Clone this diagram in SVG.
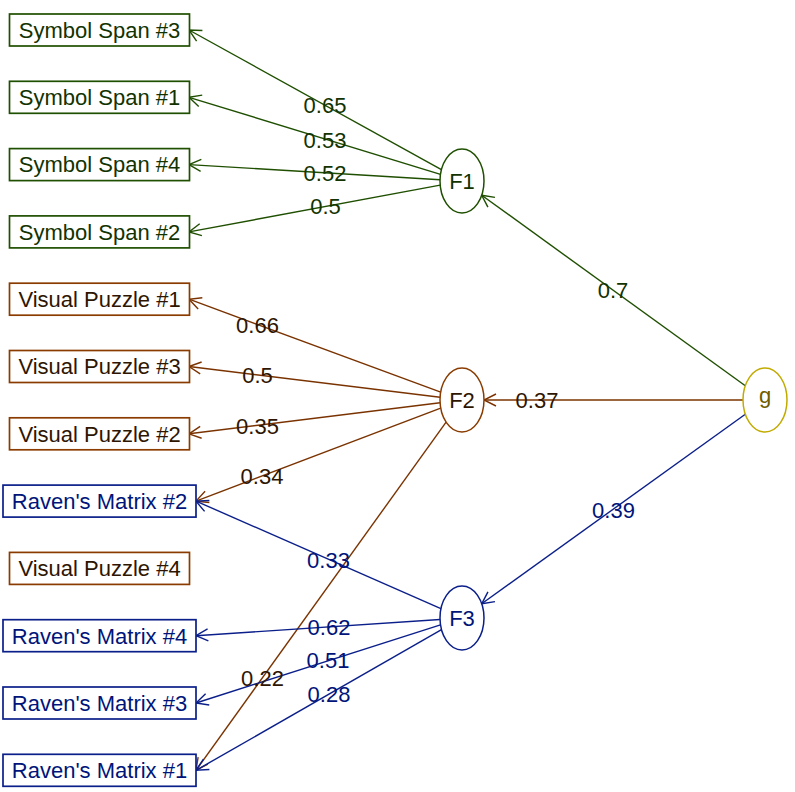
<svg xmlns="http://www.w3.org/2000/svg" width="795" height="792" viewBox="0 0 795 792">
<style>
text{font-family:"Liberation Sans",Arial,sans-serif;font-size:22px;text-anchor:middle}
.box{fill:#fff;stroke-width:1.7}
.ell{fill:#fff;stroke-width:1.5}
.gr{stroke:#1f4f00}
.or{stroke:#8a3c00}
.bl{stroke:#0b1f8a}
.yl{stroke:#c2ab00}
.tgr{fill:#123300}
.tor{fill:#2e1500}
.tbl{fill:#00147a}
.tyl{fill:#6e5c00}
.e{fill:none;stroke-width:1.4}
.egr{stroke:#1f4f00;marker-end:url(#ag)}
.eor{stroke:#7a3300;marker-end:url(#ao)}
.ebl{stroke:#0b1f8a;marker-end:url(#ab)}
</style>
<defs>
<marker id="ag" markerUnits="userSpaceOnUse" markerWidth="16" markerHeight="14" refX="14" refY="7" orient="auto" overflow="visible"><path d="M2,1 L14,7 L2,13" fill="none" stroke="#1f4f00" stroke-width="1.4"/></marker>
<marker id="ao" markerUnits="userSpaceOnUse" markerWidth="16" markerHeight="14" refX="14" refY="7" orient="auto" overflow="visible"><path d="M2,1 L14,7 L2,13" fill="none" stroke="#7a3300" stroke-width="1.4"/></marker>
<marker id="ab" markerUnits="userSpaceOnUse" markerWidth="16" markerHeight="14" refX="14" refY="7" orient="auto" overflow="visible"><path d="M2,1 L14,7 L2,13" fill="none" stroke="#0b1f8a" stroke-width="1.4"/></marker>
</defs>
<rect width="795" height="792" fill="#fff"/>
<g id="connectors">
<line class="e egr" x1="441.4" y1="169.6" x2="189" y2="30"/>
<line class="e egr" x1="440.5" y1="174.4" x2="189" y2="97.3"/>
<line class="e egr" x1="440" y1="179.7" x2="189" y2="164.6"/>
<line class="e egr" x1="440.2" y1="185.1" x2="189" y2="231.9"/>
<line class="e eor" x1="440.7" y1="392.1" x2="189" y2="299.2"/>
<line class="e eor" x1="440.1" y1="397.3" x2="189" y2="366.5"/>
<line class="e eor" x1="440.1" y1="402.7" x2="189" y2="433.8"/>
<line class="e eor" x1="440.7" y1="408.1" x2="196" y2="501.1"/>
<line class="e eor" x1="446.1" y1="422.1" x2="196" y2="770.3"/>
<line class="e ebl" x1="440.9" y1="608.7" x2="196" y2="501.1"/>
<line class="e ebl" x1="440" y1="619.5" x2="196" y2="635.7"/>
<line class="e ebl" x1="440.5" y1="624.9" x2="196" y2="703"/>
<line class="e ebl" x1="441.5" y1="629.7" x2="196" y2="770.3"/>
<line class="e egr" x1="745.3" y1="385.8" x2="481.7" y2="195.2"/>
<line class="e eor" x1="743" y1="400" x2="484" y2="400"/>
<line class="e ebl" x1="745.3" y1="414.2" x2="481.7" y2="603.8"/>
<text class="tgr" x="325" y="112.5">0.65</text>
<text class="tgr" x="325" y="147.5">0.53</text>
<text class="tgr" x="325" y="180.5">0.52</text>
<text class="tgr" x="325.5" y="213.5">0.5</text>
<text class="tor" x="257.5" y="332.5">0.66</text>
<text class="tor" x="257.5" y="382.5">0.5</text>
<text class="tor" x="257.5" y="433.5">0.35</text>
<text class="tor" x="262" y="483.5">0.34</text>
<text class="tbl" x="328.5" y="567.5">0.33</text>
<text class="tbl" x="329" y="634.5">0.62</text>
<text class="tbl" x="328" y="668">0.51</text>
<text class="tor" x="262.5" y="685.5">0.22</text>
<text class="tbl" x="329" y="701.5">0.28</text>
<text class="tgr" x="613" y="297.5">0.7</text>
<text class="tor" x="537" y="407.5">0.37</text>
<text class="tbl" x="613.5" y="517.5">0.39</text>
</g>
<g id="ss3"><rect class="box gr" x="9.5" y="14" width="180" height="32"/><text class="tgr" x="99.5" y="37.8">Symbol Span #3</text></g>
<g id="ss1"><rect class="box gr" x="9.5" y="81.3" width="180" height="32"/><text class="tgr" x="99.5" y="105.1">Symbol Span #1</text></g>
<g id="ss4"><rect class="box gr" x="9.5" y="148.6" width="180" height="32"/><text class="tgr" x="99.5" y="172.4">Symbol Span #4</text></g>
<g id="ss2"><rect class="box gr" x="9.5" y="215.9" width="180" height="32"/><text class="tgr" x="99.5" y="239.7">Symbol Span #2</text></g>
<g id="vp1"><rect class="box or" x="9.5" y="283.2" width="180" height="32"/><text class="tor" x="99.5" y="307">Visual Puzzle #1</text></g>
<g id="vp3"><rect class="box or" x="9.5" y="350.5" width="180" height="32"/><text class="tor" x="99.5" y="374.3">Visual Puzzle #3</text></g>
<g id="vp2"><rect class="box or" x="9.5" y="417.8" width="180" height="32"/><text class="tor" x="99.5" y="441.6">Visual Puzzle #2</text></g>
<g id="rm2"><rect class="box bl" x="3" y="485.1" width="193" height="32"/><text class="tbl" x="99.5" y="508.9">Raven's Matrix #2</text></g>
<g id="vp4"><rect class="box or" x="9.5" y="552.4" width="180" height="32"/><text class="tor" x="99.5" y="576.2">Visual Puzzle #4</text></g>
<g id="rm4"><rect class="box bl" x="3" y="619.7" width="193" height="32"/><text class="tbl" x="99.5" y="643.5">Raven's Matrix #4</text></g>
<g id="rm3"><rect class="box bl" x="3" y="687" width="193" height="32"/><text class="tbl" x="99.5" y="710.8">Raven's Matrix #3</text></g>
<g id="rm1"><rect class="box bl" x="3" y="754.3" width="193" height="32"/><text class="tbl" x="99.5" y="778.1">Raven's Matrix #1</text></g>
<g id="F1"><ellipse class="ell gr" cx="462" cy="181" rx="22" ry="32"/><text class="tgr" x="462" y="188.8">F1</text></g>
<g id="F2"><ellipse class="ell or" cx="462" cy="400" rx="22" ry="32"/><text class="tor" x="462" y="407.8">F2</text></g>
<g id="F3"><ellipse class="ell bl" cx="462" cy="618" rx="22" ry="32"/><text class="tbl" x="462" y="625.8">F3</text></g>
<g id="g"><ellipse class="ell yl" cx="765" cy="400" rx="22" ry="32"/><text class="tyl" x="765" y="403">g</text></g>
</svg>
